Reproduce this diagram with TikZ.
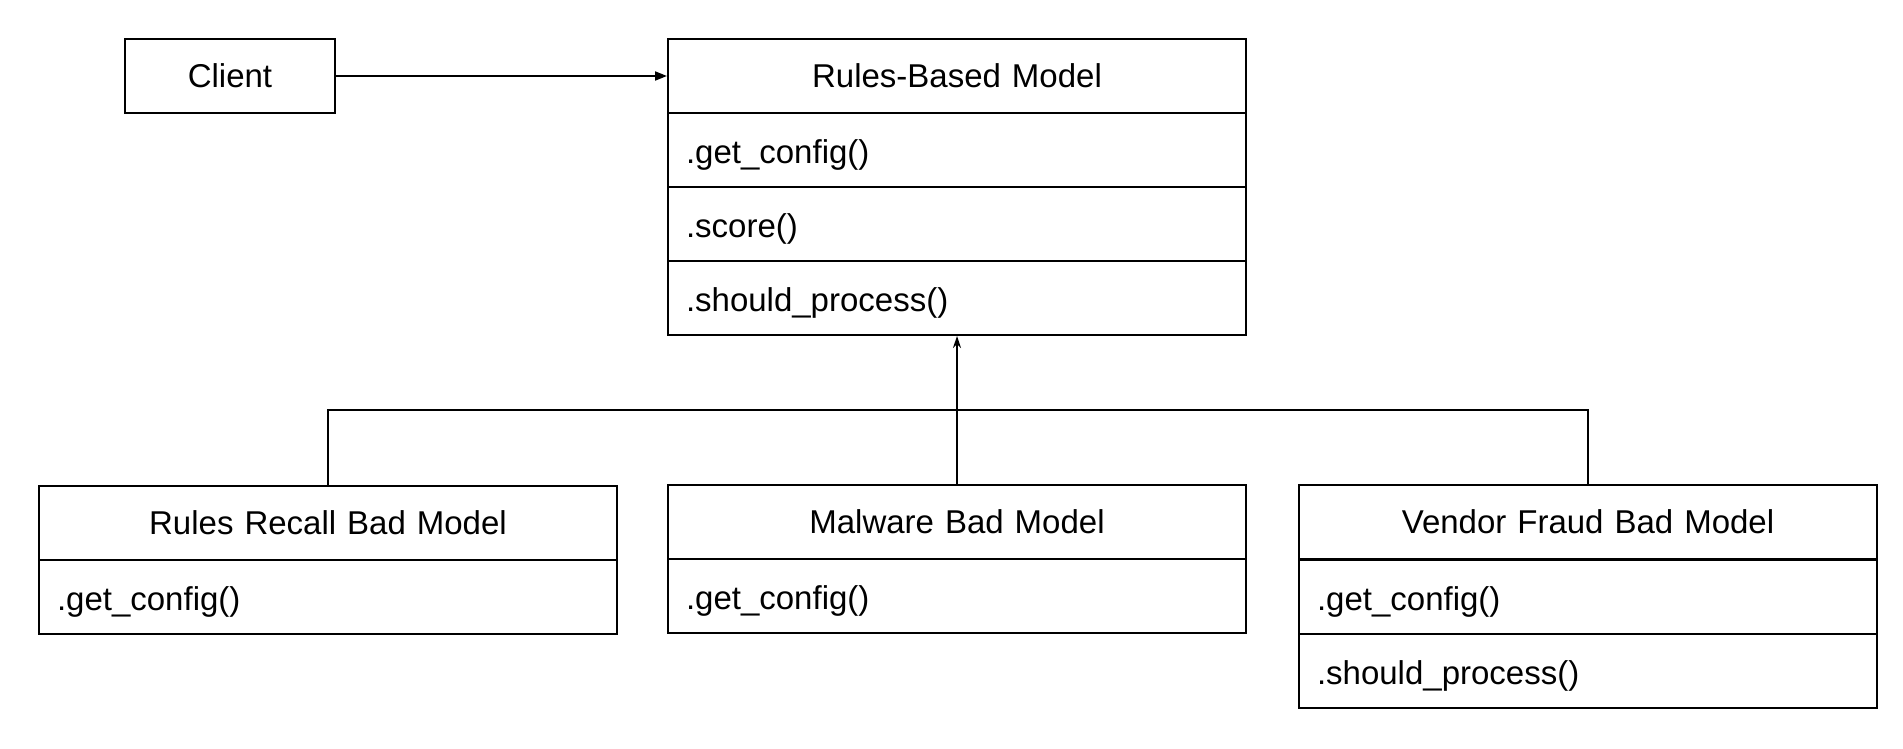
\documentclass[tikz,border=0pt]{standalone}
\usepackage{fontspec}
\setmainfont{Liberation Sans}
\usetikzlibrary{arrows.meta,calc}
\begin{document}
\begin{tikzpicture}[x=1pt,y=-1pt,
  cell/.style={draw=black, line width=2pt, minimum height=74pt, inner sep=0pt, anchor=north west,
    font=\fontsize{33}{39}\selectfont},
  titlecell/.style={cell, text width=578pt, align=center},
  methodcell/.style={cell, text width=542pt, inner xsep=18pt, align=left, text height=29pt, text depth=3pt},
  conn/.style={line width=2pt, draw=black}]
\useasboundingbox (0,0) rectangle (1903,749);
% Client
\node[cell, minimum width=210pt, text width=210pt, align=center] (client) at (124,38) {Client};
% Rules-Based Model
\node[titlecell] (rbm) at (667,38) {Rules-Based Model};
\node[methodcell] (rbm1) at (667,112) {.get\_config()};
\node[methodcell] (rbm2) at (667,186) {.score()};
\node[methodcell] (rbm3) at (667,260) {.should\_process()};
% Rules Recall Bad Model
\node[titlecell] (rr) at (38,485) {Rules Recall Bad Model};
\node[methodcell] (rr1) at (38,559) {.get\_config()};
% Malware Bad Model
\node[titlecell] (mw) at (667,484) {Malware Bad Model};
\node[methodcell] (mw1) at (667,558) {.get\_config()};
% Vendor Fraud Bad Model
\node[titlecell] (vf) at (1298,484) {Vendor Fraud Bad Model};
\node[methodcell] (vf1) at (1298,559) {.get\_config()};
\node[methodcell] (vf2) at (1298,633) {.should\_process()};
% connectors
\coordinate (junc) at (956,410);
\draw[conn, -{Triangle[length=12pt,width=9pt]}] (client.east) -- (rbm.west);
\draw[conn, -{Stealth[length=12pt,width=8pt]}] (mw.north) -- (rbm3.south);
\draw[conn] (rr.north) |- (junc) -| (vf.north);
\end{tikzpicture}
\end{document}
